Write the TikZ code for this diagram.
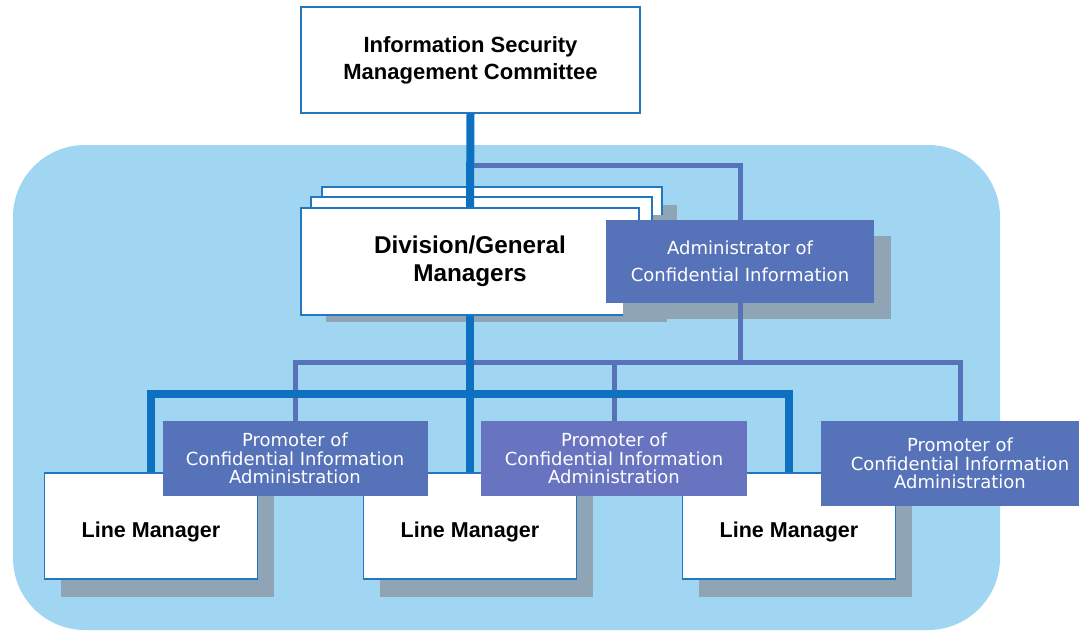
\documentclass[tikz,border=0pt]{standalone}
\usepackage{fontspec}
\setmainfont{Liberation Sans}
\newfontfamily\dvfont{DejaVu Sans}
\usetikzlibrary{shadows}
\definecolor{bgblue}{RGB}{160,214,242}
\definecolor{thickblue}{RGB}{14,112,192}
\definecolor{slate}{RGB}{86,114,184}
\definecolor{slatelight}{RGB}{104,116,192}
\definecolor{borderblue}{RGB}{36,118,190}
\definecolor{shadowc}{RGB}{143,164,180}
\begin{document}
\begin{tikzpicture}[x=1pt,y=-1pt,
  whitebox/.style={draw=borderblue, line width=1.5pt, fill=white, inner sep=0pt, align=center, text=black},
  bluebox/.style={fill=slate, inner sep=0pt, align=center, text=white, font=\dvfont\fontsize{18}{18.3}\selectfont},
  divshadow/.style={drop shadow={shadow xshift=15pt, shadow yshift=-18pt, fill=shadowc, draw=none, opacity=1}},
  lmshadow/.style={drop shadow={shadow xshift=16pt, shadow yshift=-18pt, fill=shadowc, draw=none, opacity=1}},
  adminshadow/.style={drop shadow={shadow xshift=17pt, shadow yshift=-16pt, fill=shadowc, draw=none, opacity=1}},
  thinline/.style={draw=slate, line width=5pt},
  thickline/.style={draw=thickblue, line width=8pt},
  lmbox/.style={whitebox, lmshadow, minimum width=213pt, minimum height=106pt, text height=24pt, text depth=0.8pt, font=\bfseries\fontsize{21.5}{24}\selectfont},
  promobox/.style={bluebox, minimum width=265pt, minimum height=75pt}
]
\useasboundingbox (0,0) rectangle (1079,633);
% background panel
\fill[bgblue, rounded corners=72pt] (13,145) rectangle (1000,630);

% top committee
\node[whitebox, minimum width=339pt, minimum height=106pt, font=\bfseries\fontsize{22}{27}\selectfont] (top) at (470.5,60) {\rule{0pt}{6pt}Information Security\\Management Committee};

% division stack
\node[whitebox, divshadow, minimum width=340pt, minimum height=107pt] (divback) at (492,240.5) {};
\node[whitebox, divshadow, minimum width=341pt, minimum height=107pt] (divmid) at (481.5,250.5) {};
\node[whitebox, minimum width=338pt, minimum height=107pt, font=\bfseries\fontsize{24.3}{28.5}\selectfont] (front) at (470,261.5) {\rule{0pt}{6pt}Division/General\\Managers};

% administrator
\node[bluebox, adminshadow, minimum width=268pt, minimum height=83pt, font=\dvfont\fontsize{18}{27}\selectfont] (admin) at (740,261.5) {Administrator of\\Confidential Information};

% line managers
\node[lmbox] (lm1) at (151,526) {Line Manager};
\node[lmbox] (lm2) at (470,526) {Line Manager};
\node[lmbox] (lm3) at (789,526) {Line Manager};

% promoters
\node[promobox] (p1) at (295,458.5) {Promoter of\\Confidential Information\\Administration};
\node[promobox, fill=slatelight, minimum width=266pt] (p2) at (614,458.5) {Promoter of\\Confidential Information\\Administration};
\node[promobox, minimum width=278pt, minimum height=85pt] (p3) at (960,463.5) {Promoter of\\Confidential Information\\Administration};

% junction coordinates
\coordinate (ja) at (470,165);
\coordinate (tb) at (740,362);
\coordinate (tk) at (470,394);

% thin connectors
\draw[thinline] (ja) -| (admin.north);
\draw[thinline] (admin.south) -- (tb);
\draw[thinline] (p1.north) |- (tb) -| (p3.north);
\draw[thinline] (p2.north) -- (p2.north |- tb);

% thick connectors
\draw[thickline] (top.south) -- (front.north);
\draw[thickline] (front.south) -- (lm2.north);
\draw[thickline] (lm1.north) |- (tk) -| (lm3.north);
\end{tikzpicture}
\end{document}
